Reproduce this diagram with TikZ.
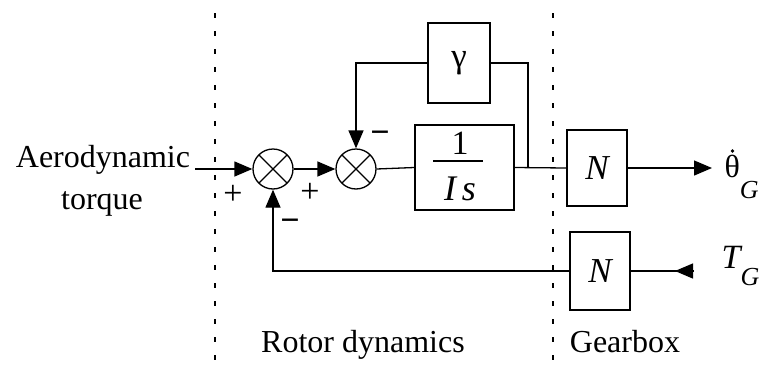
\documentclass[tikz,border=0pt]{standalone}
\usepackage{fontspec}
\setmainfont{Liberation Serif}
\usetikzlibrary{arrows.meta}
\begin{document}
\begin{tikzpicture}[x=1pt,y=-1pt,line width=1.3pt,
  blk/.style={draw,line width=1.3pt,inner sep=0pt,font=\fontsize{35}{40}\selectfont\itshape},
  sumnode/.style={draw,circle,minimum size=40pt,inner sep=0pt,
    path picture={\draw[line width=1.3pt] (path picture bounding box.north west) -- (path picture bounding box.south east)
      (path picture bounding box.north east) -- (path picture bounding box.south west);}},
  arr/.style={-{Triangle[length=18pt,width=15pt]}},
  sep/.style={line width=1.4pt,dash pattern=on 5pt off 13pt},
  lbl/.style={inner sep=0pt,font=\fontsize{32}{38}\selectfont},
  sgn/.style={inner sep=0pt,font=\fontsize{34}{38}\selectfont}
]
\useasboundingbox (0,0) rectangle (761,370);
% separators
\draw[sep] (215,13) -- (215,370);
\draw[sep] (553,13) -- (553,370);
% nodes
\node[sumnode] (s1) at (273,169) {};
\node[sumnode] (s2) at (356,169) {};
\node[blk,minimum width=62pt,minimum height=80pt] (g) at (459,63) {\upshape γ};
\node[blk,minimum width=99pt,minimum height=85pt] (tf) at (464.5,167.5) {};
\node[lbl,font=\fontsize{34}{38}\selectfont] (one) at (460,143) {1};
\node[lbl,font=\fontsize{36}{40}\selectfont] (is) at (460,189) {\itshape I\,s};
\draw (433,161) -- (483,161);
\node[blk,minimum width=60pt,minimum height=76pt] (n1) at (597,168) {N};
\node[blk,minimum width=60pt,minimum height=78pt] (n2) at (600,271) {N};
\coordinate (in) at (195,169);
\coordinate (j) at (528,167);
\coordinate (out) at (712,168);
\coordinate (tgin) at (693,271);
\coordinate (tgtip) at (675,271);
% connectors
\draw[arr] (in) -- (s1.west);
\draw[arr] (s1.east) -- (s2.west);
\draw (s2.east) -- (tf.west);
\draw (tf.east) -- (n1.west);
\draw (g.east) -| (j);
\draw[arr] (g.west) -| (s2.north);
\draw[arr] (n1.east) -- (out);
\draw (n2.east) -- (tgin);
\draw[arr] (tgin) -- (tgtip);
\draw[arr] (n2.west) -| (s1.south);
% labels
\node[lbl,anchor=base] (aero) at (103,167) {Aerodynamic};
\node[lbl,anchor=base] (torq) at (102,209) {torque};
\node[lbl,anchor=base] (rotor) at (363,352) {Rotor dynamics};
\node[lbl,anchor=base] (gear) at (625,352) {Gearbox};
\node[sgn] (p1) at (233,195) {+};
\node[sgn] (p2) at (310,193) {+};
\node[sgn] (m1) at (290,225) {\bfseries −};
\node[sgn] (m2) at (380,137) {\bfseries −};
\node[lbl,anchor=base west] (thg) at (724,177) {θ\raisebox{-21pt}{\fontsize{26}{26}\selectfont\itshape G}};
\fill ([xshift=8.5pt,yshift=26pt]thg.base west) circle (1.8pt);
\node[lbl,anchor=base west,font=\fontsize{34}{38}\selectfont] (tg) at (721,268) {\itshape T\raisebox{-17pt}{\fontsize{26}{26}\selectfont G}};
\end{tikzpicture}
\end{document}
